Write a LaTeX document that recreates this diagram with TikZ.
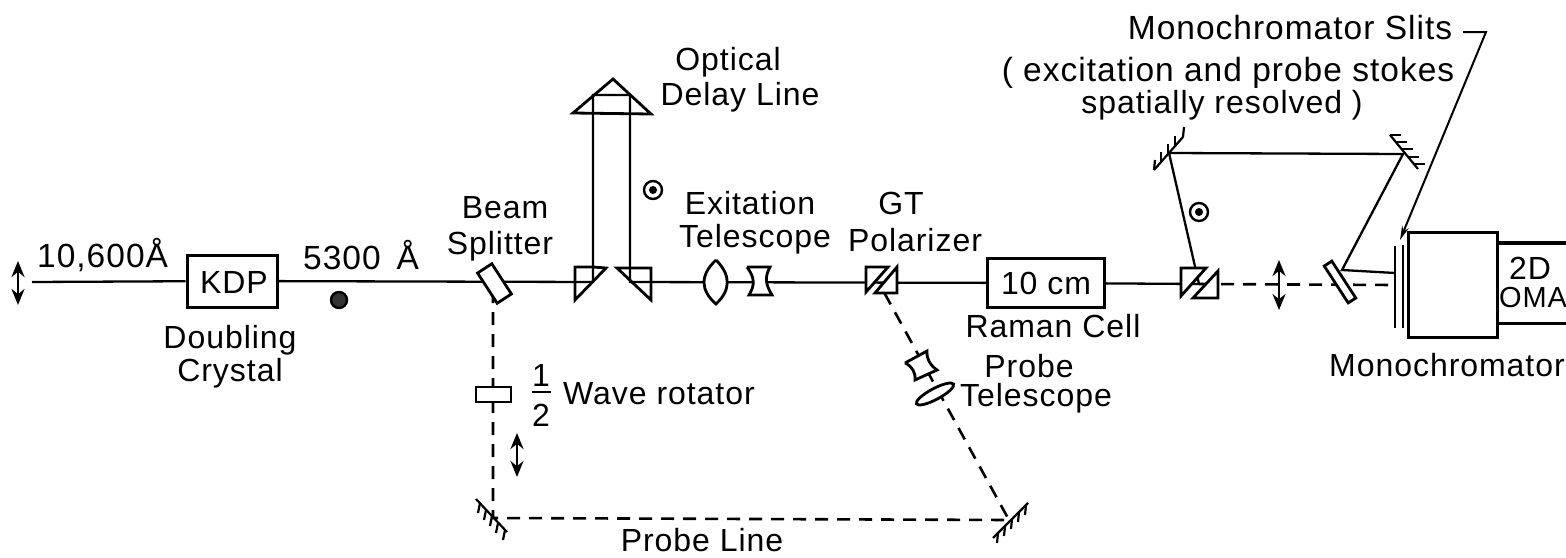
\documentclass[tikz,border=0pt]{standalone}
\usepackage{fontspec}
\setmainfont[LetterSpace=3]{Liberation Sans}
\usetikzlibrary{arrows.meta,shapes.geometric}
\tikzset{
  beam/.style={line width=2.3pt},
  probe/.style={line width=2.6pt, dash pattern=on 13pt off 9pt},
  optic/.style={line width=2.8pt, fill=white, line join=miter},
  mirror/.style={line width=2.2pt},
  polar/.style={line width=2.8pt, <->, >={Stealth[length=16pt,width=13pt]}},
  lbl/.style={inner sep=0pt, font=\fontsize{32}{34}\selectfont},
  lblwide/.style={inner sep=0pt, font=\fontsize{33.5}{35}\selectfont},
  lblthin/.style={inner sep=0pt, font=\fontsize{29}{31}\selectfont}
}
\begin{document}
\begin{tikzpicture}[x=1pt, y=-1pt]
   \useasboundingbox (0,0) rectangle (1566,557);
   % points on the beams
   \coordinate (start) at (32,282);
   \coordinate (prismA) at (593,282);
   \coordinate (prismB) at (630,282);
   \coordinate (roofA) at (593,95);
   \coordinate (roofB) at (630,95);
   \coordinate (polA) at (880,285);
   \coordinate (polB) at (1199,284);
   \coordinate (foldA) at (1169,153);
   \coordinate (foldB) at (1403,154);
   \coordinate (plateHit) at (1342,270);
   \coordinate (slitHit) at (1395,273);
   \coordinate (slitMid) at (1395,285);
   \coordinate (cornerA) at (493,518);
   \coordinate (cornerB) at (1009,520);
   \coordinate (leaderA) at (1463,32);
   \coordinate (leaderB) at (1486,32);
   \coordinate (leaderC) at (1400,240);
   % boxes
   \node[draw, line width=3pt, minimum width=90pt, minimum height=52pt, inner sep=0pt] (kdp) at (232,281) {};
   \node[draw, line width=3pt, minimum width=117pt, minimum height=49pt, inner sep=0pt] (cell) at (1046,283) {};
   \node[draw, line width=3pt, minimum width=89pt, minimum height=105pt, inner sep=0pt] (mono) at (1453,285) {};
   % beams, solid
   \draw[beam] (start)--(kdp);
   \draw[beam] (kdp)--(prismA)--(roofA)--(roofB)--(prismB)--(cell);
   \draw[beam] (cell)--(polB)--(foldA)--(foldB)--(plateHit)--(slitHit);
   % beams, dashed
   \draw[probe] (polB)--(slitMid);
   \draw[probe] (493,290)--(cornerA)--(cornerB)--(polA);
   % pointer to the slits
   \draw[line width=2pt, -{Stealth[length=14pt,width=7pt]}] (leaderA)--(leaderB)--(leaderC);
   % splitter, plate, rotator
   \node[draw, optic, minimum width=36pt, minimum height=17pt, inner sep=0pt, rotate=-57] (splitter) at (494.5,283.5) {};
   \node[draw, optic, minimum width=44pt, minimum height=9pt, inner sep=0pt, rotate=-57] (plate) at (1340,282) {};
   \node[draw, optic, minimum width=35pt, minimum height=15pt, inner sep=0pt] (rotator) at (493.5,394.5) {};
   % prisms
   \draw[line width=2.8pt] (593,267)--(575,267)--(575,300)--(606,268)--(593,267);
   \draw[line width=2.8pt] (630,268)--(651,268)--(651,300)--(617,268)--(630,268);
   \draw[line width=2.8pt] (613,79)--(573,113)--(651,114)--cycle;
   % telescope on the main line
   \draw[optic] (716,260) .. controls (700,275) and (700,290) .. (716,304) .. controls (731,290) and (731,275) .. (716,260);
   \draw[optic] (747,267)--(770,267) .. controls (764,278) and (766,285) .. (772,295) --(749,295) .. controls (755,285) and (755,278) .. (747,267);
   % first polarizer
   \draw[optic] (866,292)--(866,267)--(888,267)--cycle;
   \draw[optic] (897,267)--(897,293)--(875,293)--cycle;
   % second polarizer
   \draw[optic] (1181,296)--(1181,268)--(1206,268)--cycle;
   \draw[optic] (1218,271)--(1218,298)--(1193,298)--cycle;
   % probe telescope
   \draw[optic] (905,363)--(927,351) .. controls (926,358) and (930,365) .. (937,370) --(915,380) .. controls (916,373) and (912,366) .. (905,363);
   \node[draw, optic, ellipse, minimum width=42pt, minimum height=11pt, inner sep=0pt, rotate=28] (probeLens) at (935,394) {};
   % slits
   \draw[line width=2.4pt] (1395,246)--(1395,328);
   \draw[line width=2.4pt] (1403,245)--(1403,328);
   % OMA
   \draw[line width=3.5pt] (1498,243)--(1566,243);
   \draw[line width=3pt] (1498,323)--(1566,323);
   % polarization marks
   \draw[polar] (18,261)--(18,305);
   \draw[polar] (1279,260)--(1279,310);
   \draw[polar] (517,433)--(517,477);
   \draw[line width=2.4pt] (653,190) circle (9pt);
   \fill (653,190) circle (4pt);
   \draw[line width=2.4pt] (1199,212) circle (9pt);
   \fill (1199,212) circle (4pt);
   \draw[line width=2.4pt, fill=black!80] (339,300) circle (8pt);
   % mirrors
   \draw[mirror] (1183,137)--(1154,170);
   \draw[mirror] (1154,170)--(1155,160);
   \draw[mirror] (1161,162)--(1161,152);
   \draw[mirror] (1168,154)--(1168,144);
   \draw[mirror] (1175,146)--(1175,136);
   \draw[mirror] (1183,137)--(1184,127);
   \draw[mirror] (1390,135)--(1418,169);
   \draw[mirror] (1390,135)--(1401,135);
   \draw[mirror] (1396,142)--(1407,142);
   \draw[mirror] (1402,149)--(1413,149);
   \draw[mirror] (1408,157)--(1419,157);
   \draw[mirror] (1414,164)--(1425,164);
   \draw[mirror] (476,499)--(507,532);
   \draw[mirror] (480,503)--(478,513);
   \draw[mirror] (486,510)--(484,520);
   \draw[mirror] (492,516)--(490,526);
   \draw[mirror] (498,523)--(496,533);
   \draw[mirror] (505,530)--(503,540);
   \draw[mirror] (993,538)--(1028,503);
   \draw[mirror] (998,533)--(997,543);
   \draw[mirror] (1005,526)--(1004,536);
   \draw[mirror] (1012,519)--(1011,529);
   \draw[mirror] (1019,512)--(1018,522);
   \draw[mirror] (1026,505)--(1025,515);
   % texts
   \node[lblwide, anchor=west] (lblIn) at (37,255) {10,600Å};
   \node[lbl] (lblKdp) at (234,282) {KDP};
   \node[lblwide, anchor=west] (lblOut) at (303,255) {5300 \,Å};
   \node[lbl] (lblDoubling) at (230,340) {Doubling};
   \node[lbl] (lblCrystal) at (230,373) {Crystal};
   \node[lbl] (lblBeam) at (505,208) {Beam};
   \node[lbl] (lblSplitter) at (500,246) {Splitter};
   \node[lbl] (lblOptical) at (728,62) {Optical};
   \node[lbl] (lblDelay) at (740,97) {Delay Line};
   \node[lbl] (lblExit) at (750,203) {Exitation};
   \node[lbl] (lblExitTel) at (755,239) {Telescope};
   \node[lbl] (lblGt) at (901,203) {GT};
   \node[lbl] (lblPolarizer) at (915,240) {Polarizer};
   \node[lbl] (lblCell) at (1046,283) {10 cm};
   \node[lbl] (lblRaman) at (1053,326) {Raman Cell};
   \node[lbl] (lblProbe) at (1029,366) {Probe};
   \node[lbl] (lblProbeTel) at (1036,398) {Telescope};
   \node[lbl] (lblMono) at (1447,365) {Monochromator};
   \node[lblwide] (lblSlits) at (1290,28) {Monochromator Slits};
   \node[lblwide] (lblNote) at (1228,73) {( excitation and probe stokes};
   \node[lbl] (lblNoteB) at (1222,105) {spatially resolved )};
   \node[lbl] (lblTwoD) at (1530,268) {2D};
   \node[lblthin] (lblOma) at (1533,298) {OMA};
   \node[lbl] (lblOne) at (541,375) {1};
   \node[lbl] (lblTwo) at (541,415) {2};
   \draw[line width=2.4pt] (532,392)--(551,392);
   \node[lbl, anchor=west] (lblWave) at (563,394) {Wave rotator};
   \node[lbl] (lblLine) at (702,540) {Probe Line};
\end{tikzpicture}
\end{document}
